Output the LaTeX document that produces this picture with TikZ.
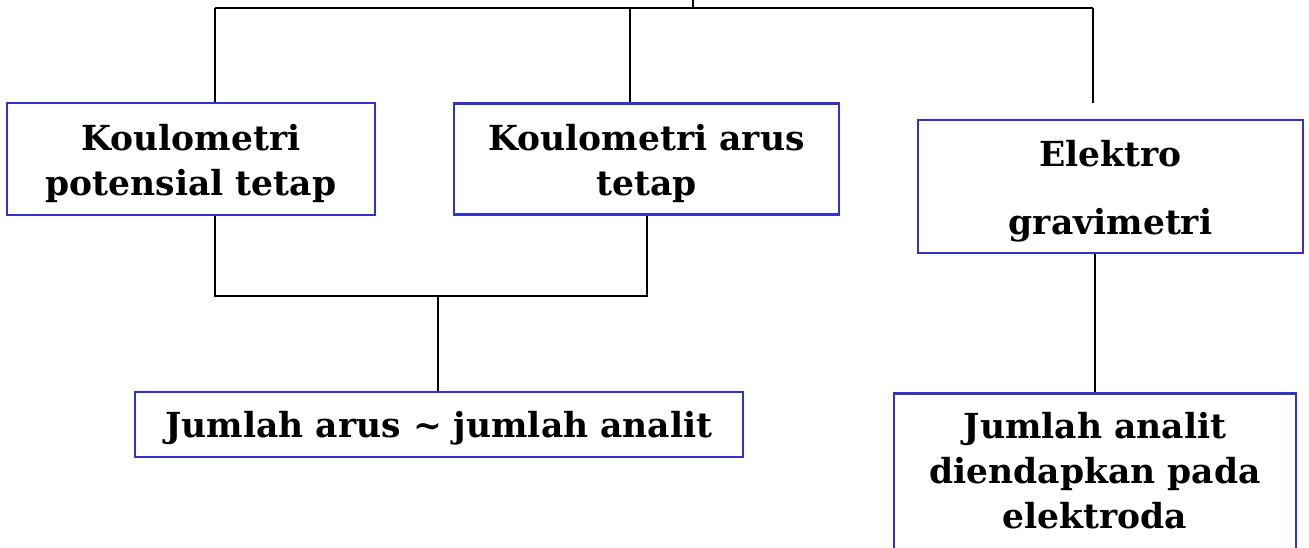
\documentclass[tikz,border=0pt]{standalone}
\usepackage{fontspec}
\setmainfont{DejaVu Serif}
\definecolor{boxblue}{RGB}{51,51,204}
\begin{document}
\begin{tikzpicture}[x=1pt,y=-1pt,
  box/.style={draw=boxblue,line width=2.6pt,inner sep=0pt},
  txt/.style={inner sep=0pt,align=center,
    font=\fontsize{34.5}{45}\selectfont\bfseries},
  conn/.style={draw=black,line width=2.6pt}]
\useasboundingbox (0,0) rectangle (1309,547);
\node[box,minimum width=368pt,minimum height=112pt] (b1) at (191,159) {};
\node[txt] (t1) at ([yshift=-4.5pt]b1.center) {Koulometri\\potensial tetap};
\node[box,minimum width=385pt,minimum height=111pt] (b2) at (646.5,159) {};
\node[txt] (t2) at ([yshift=-4.5pt]b2.center) {Koulometri arus\\tetap};
\node[box,minimum width=385pt,minimum height=133pt] (b3) at (1110.5,186.5) {};
\node[txt,font=\fontsize{34.5}{68}\selectfont\bfseries] (t3) at ([yshift=-5pt]b3.center) {Elektro\\gravimetri};
\node[box,minimum width=608pt,minimum height=65pt] (b4) at (439,424.5) {};
\node[txt] (t4) at ([yshift=-3.5pt]b4.center) {Jumlah arus \textasciitilde{} jumlah analit};
\node[box,minimum width=402pt,minimum height=160pt,anchor=north] (b5) at (1095,392) {};
\node[txt] (t5) at ([yshift=3pt]b5.center) {Jumlah analit\\diendapkan pada\\elektroda};
\coordinate (top) at (693,0);
\coordinate (jt) at (693,8);
\coordinate (jl) at (215,8);
\coordinate (jm) at (630,8);
\coordinate (jr) at (1093,8);
\coordinate (rend) at (1093,103);
\coordinate (ja) at (215,296);
\coordinate (jb) at (647,296);
\coordinate (jc) at (438,296);
\draw[conn] (top) -- (jt);
\draw[conn] (jl) -- (jr);
\draw[conn] (jl) -- (b1.north -| jl);
\draw[conn] (jm) -- (b2.north -| jm);
\draw[conn] (jr) -- (rend);
\draw[conn] (b1.south -| ja) -- (ja) -- (jb) -- (b2.south -| jb);
\draw[conn] (jc) -- (b4.north -| jc);
\draw[conn] (b3.south -| b5.north) -- (b5.north);
\end{tikzpicture}
\end{document}
